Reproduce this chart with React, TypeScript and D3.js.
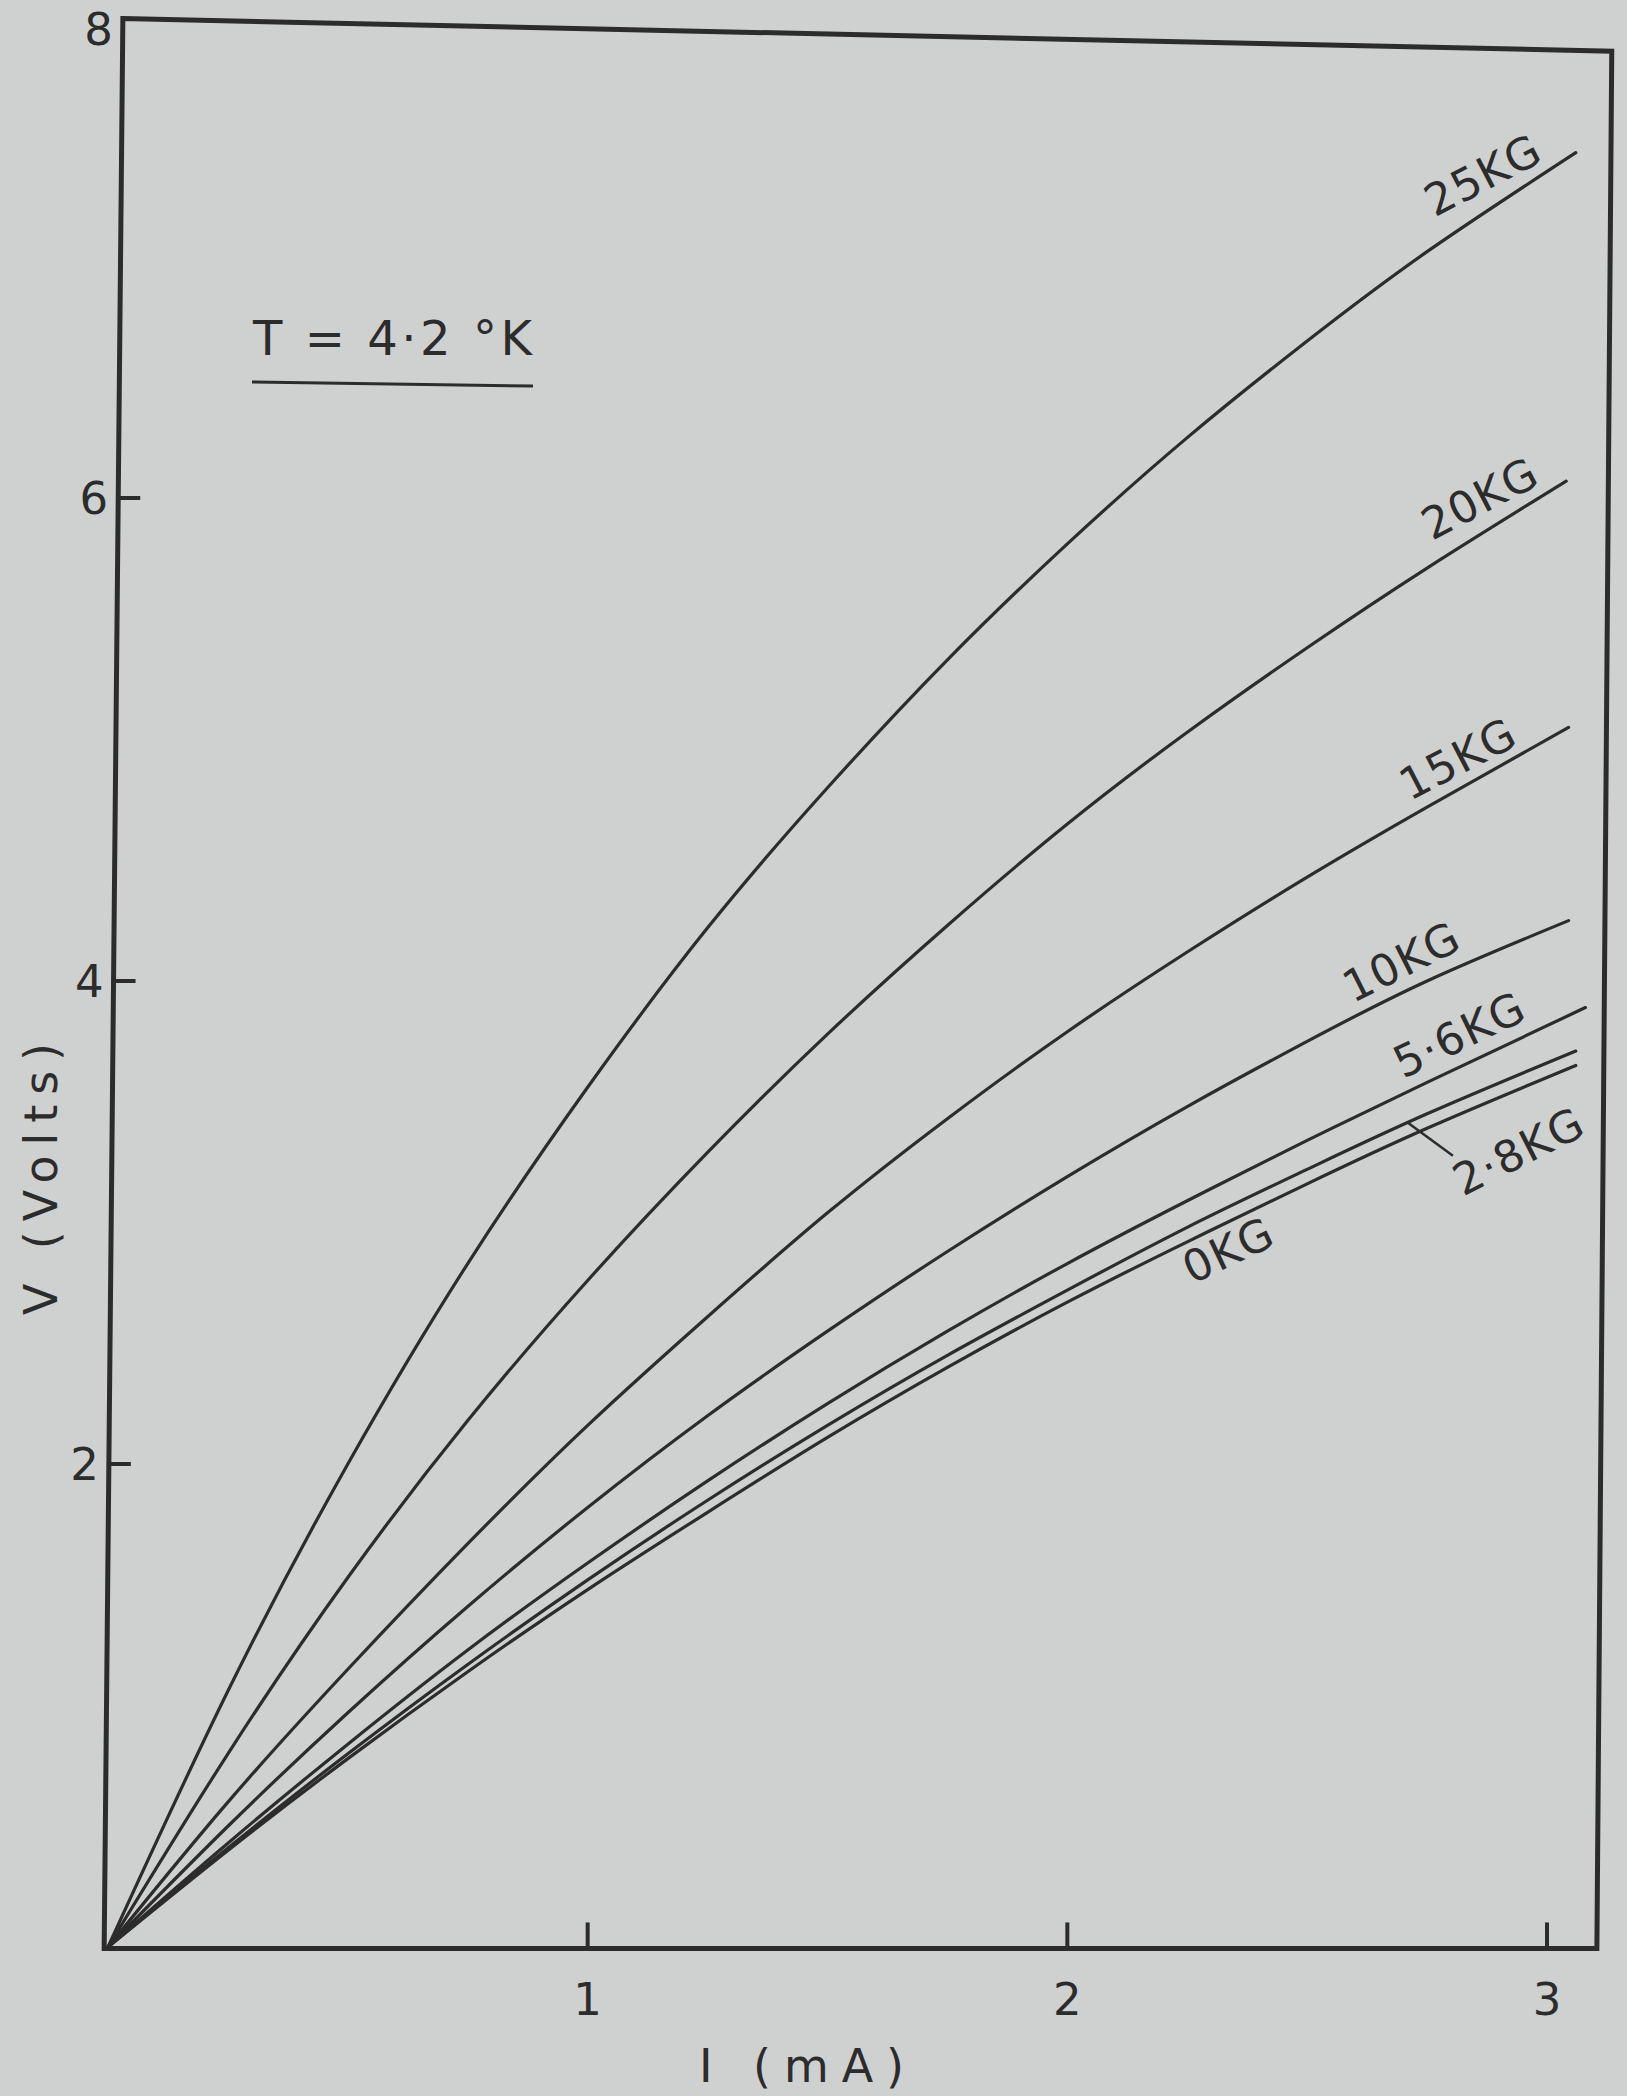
import React from "react";
import * as d3 from "d3";

// ---------- data ----------
const currentGrid = [0, 0.25, 0.5, 0.75, 1, 1.25, 1.5, 1.75, 2, 2.25, 2.5, 2.75];
const fieldLabels = ["25KG", "20KG", "15KG", "10KG", "5·6KG", "2·8KG", "0KG"];
const v25kg = [0, 1.06, 2.0, 2.83, 3.56, 4.22, 4.8, 5.33, 5.81, 6.25, 6.65, 7.02];
const v20kg = [0, 0.8, 1.53, 2.18, 2.76, 3.29, 3.78, 4.23, 4.65, 5.03, 5.38, 5.71];
const v15kg = [0, 0.6, 1.15, 1.67, 2.16, 2.61, 3.04, 3.43, 3.79, 4.12, 4.43, 4.72];
const v10kg = [0, 0.5, 0.97, 1.41, 1.82, 2.2, 2.55, 2.88, 3.19, 3.48, 3.75, 4.0];
const v56kg = [0, 0.43, 0.84, 1.23, 1.59, 1.93, 2.25, 2.55, 2.83, 3.09, 3.34, 3.58];
const v28kg = [0, 0.41, 0.8, 1.17, 1.52, 1.85, 2.16, 2.45, 2.72, 2.98, 3.22, 3.45];
const v0kg = [0, 0.4, 0.78, 1.14, 1.48, 1.8, 2.11, 2.4, 2.67, 2.92, 3.16, 3.39];
const endCurrents = [3.06, 3.04, 3.045, 3.045, 3.08, 3.06, 3.06];
const endVoltages = [7.43, 6.07, 5.05, 4.25, 3.89, 3.71, 3.65];
const xTicks = [1, 2, 3];
const yTicks = [2, 4, 6, 8];
const xLabel = "I (mA)";
const yLabel = "V (Volts)";
const tempLabel = "T = 4·2 °K";

const seriesValues = [v25kg, v20kg, v15kg, v10kg, v56kg, v28kg, v0kg];

// ---------- layout ----------
const W = 1627;
const H = 2096;
const BG = "#cfd0d0";
const INK = "#2c2c2c";
const FONT = "'DejaVu Sans', 'Liberation Sans', sans-serif";

const x = d3.scaleLinear().domain([0, 3]).range([108, 1547]);
const y = d3.scaleLinear().domain([0, 8]).range([1947, 15]);

// frame corners (data units) – the original hand-drawn frame is slightly skewed
const frameCorners: [number, number][] = [
  [0.031, 7.985],
  [3.135, 7.85],
  [3.104, -0.006],
  [-0.008, -0.006],
];

// label placement: current where text begins, px offset above curve, angle
const labelLayout = [
  { i: 2.766, dy: 29, angle: -27.5 },
  { i: 2.76, dy: 24, angle: -27.7 },
  { i: 2.714, dy: 16, angle: -27.5 },
  { i: 2.595, dy: 15, angle: -26.6 },
  { i: 2.7, dy: 15, angle: -25.8 },
  { i: 2.825, dy: -98, angle: -26.8 },
  { i: 2.26, dy: -45, angle: -25.4 },
];

function seriesPoints(k: number): [number, number][] {
  const pts: [number, number][] = currentGrid.map((c, j) => [c, seriesValues[k][j]]);
  pts.push([endCurrents[k], endVoltages[k]]);
  return pts;
}

function interp(k: number, i: number): number {
  const pts = seriesPoints(k);
  for (let j = 0; j < pts.length - 1; j++) {
    if (i >= pts[j][0] && i <= pts[j + 1][0]) {
      const t = (i - pts[j][0]) / (pts[j + 1][0] - pts[j][0]);
      return pts[j][1] + t * (pts[j + 1][1] - pts[j][1]);
    }
  }
  return pts[pts.length - 1][1];
}

export default function App() {
  const line = d3
    .line<[number, number]>()
    .x((d) => x(d[0]))
    .y((d) => y(d[1]))
    .curve(d3.curveNatural);

  const corners = frameCorners.map(([a, b]) => [x(a), y(b)] as [number, number]);
  const framePath = "M" + corners.map((c) => c.join(",")).join("L") + "Z";

  // left border x at given pixel y
  const leftAt = (py: number) => {
    const [tx, ty] = corners[0];
    const [bx, by] = corners[3];
    return tx + ((py - ty) / (by - ty)) * (bx - tx);
  };
  const bottomY = corners[2][1];

  // 2.8KG leader
  const leadI = 2.71;
  const lx0 = x(leadI);
  const ly0 = y(interp(5, leadI));

  return (
    <svg
      width={W}
      height={H}
      viewBox={`0 0 ${W} ${H}`}
      style={{ position: "absolute", left: 0, top: 0, display: "block" }}
    >
      <rect x={0} y={0} width={W} height={H} fill={BG} />

      {/* curves */}
      {fieldLabels.map((lab, k) => (
        <path
          key={lab}
          d={line(seriesPoints(k)) || ""}
          fill="none"
          stroke={INK}
          strokeWidth={3.2}
          strokeLinecap="round"
        />
      ))}

      {/* frame */}
      <path d={framePath} fill="none" stroke={INK} strokeWidth={5} strokeLinejoin="miter" />

      {/* x ticks */}
      {xTicks.map((t) => (
        <g key={"xt" + t}>
          <line x1={x(t)} x2={x(t)} y1={bottomY} y2={bottomY - 26} stroke={INK} strokeWidth={4} />
          <text
            x={x(t)}
            y={2015}
            textAnchor="middle"
            fontFamily={FONT}
            fontSize={45}
            fill={INK}
          >
            {t}
          </text>
        </g>
      ))}

      {/* y ticks */}
      {yTicks.map((t) => {
        const py = y(t);
        const bx = leftAt(py);
        return (
          <g key={"yt" + t}>
            {t < 8 && (
              <line x1={bx} x2={bx + 22} y1={py} y2={py} stroke={INK} strokeWidth={4} />
            )}
            <text
              x={bx - 10}
              y={Math.max(py, 29)}
              dy="0.36em"
              textAnchor="end"
              fontFamily={FONT}
              fontSize={45}
              fill={INK}
            >
              {t}
            </text>
          </g>
        );
      })}

      {/* axis titles */}
      <text
        x={699}
        y={2082}
        textLength={205}
        lengthAdjust="spacing"
        fontFamily={FONT}
        fontSize={46}
        fill={INK}
      >
        {xLabel}
      </text>
      <text
        transform="translate(57,1315) rotate(-90)"
        textLength={272}
        lengthAdjust="spacing"
        fontFamily={FONT}
        fontSize={46}
        fill={INK}
      >
        {yLabel}
      </text>

      {/* temperature note */}
      <text
        x={253}
        y={355}
        textLength={279}
        lengthAdjust="spacing"
        fontFamily={FONT}
        fontSize={48}
        fill={INK}
      >
        {tempLabel}
      </text>
      <line x1={252} y1={382} x2={533} y2={386} stroke={INK} strokeWidth={3} />

      {/* curve labels */}
      {fieldLabels.map((lab, k) => {
        const L = labelLayout[k];
        const px = x(L.i);
        const py = y(interp(k, L.i)) - L.dy;
        return (
          <text
            key={"lab" + lab}
            transform={`translate(${px},${py}) rotate(${L.angle})`}
            fontFamily={FONT}
            fontSize={44}
            letterSpacing={1.5}
            fill={INK}
          >
            {lab}
          </text>
        );
      })}

      {/* leader for 2·8KG */}
      <line x1={lx0} y1={ly0} x2={lx0 + 45} y2={ly0 + 33} stroke={INK} strokeWidth={2.5} />
    </svg>
  );
}
